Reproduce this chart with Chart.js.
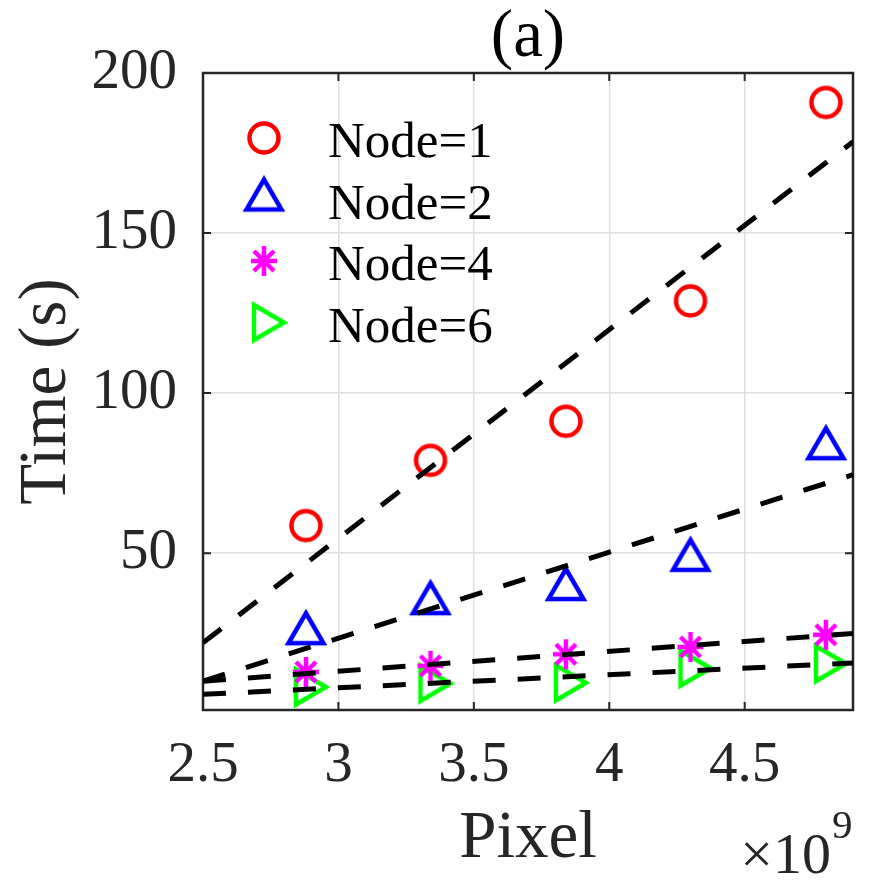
<!DOCTYPE html>
<html><head><meta charset="utf-8">
<script src="https://cdn.jsdelivr.net/npm/chart.js@4.4.1/dist/chart.umd.min.js"></script>
<style>html,body{margin:0;padding:0;background:#fff;}canvas{display:block;}</style>
</head><body>
<canvas id="c" width="871" height="886"></canvas>
<script>
// ---- data (x in units of 10^9 pixels) ----
const pixelX = [2.88, 3.34, 3.84, 4.30, 4.80];
const node1 = [58.6, 79.0, 91.2, 128.8, 190.8];
const node2 = [25.0, 34.4, 38.8, 47.9, 82.8];
const node4 = [12.9, 14.8, 18.4, 20.7, 24.5];
const node6 = [8.2, 9.3, 9.5, 14.1, 15.5];
const fitX = [2.5, 4.9];
const fit1 = [22.0, 178.5];
const fit2 = [10.0, 74.5];
const fit4 = [10.0, 24.9];
const fit6 = [5.9, 15.7];
const xTicks = [2.5, 3, 3.5, 4, 4.5];
const yTicks = [50, 100, 150, 200];
const seriesLabels = ['Node=1', 'Node=2', 'Node=4', 'Node=6'];

const FONT = "'Liberation Serif', serif";

function mk(type, color) {
  const c = document.createElement('canvas'); c.width = c.height = 60;
  const g = c.getContext('2d'); g.strokeStyle = color; g.lineWidth = 4.5; g.translate(30, 30);
  g.beginPath();
  if (type === 'o') { g.arc(0, 0, 14.5, 0, Math.PI * 2); }
  else if (type === '^') { const w = 35, h = 30; g.moveTo(0, -2*h/3); g.lineTo(w/2, h/3); g.lineTo(-w/2, h/3); g.closePath(); }
  else if (type === '>') { const w = 35, h = 30; g.moveTo(2*h/3, 0); g.lineTo(-h/3, w/2); g.lineTo(-h/3, -w/2); g.closePath(); }
  else if (type === '*') { const a = 15, b = 13, d = 10;
    g.moveTo(0, -a); g.lineTo(0, a); g.moveTo(-b, 0); g.lineTo(b, 0);
    g.moveTo(-d, -d); g.lineTo(d, d); g.moveTo(-d, d); g.lineTo(d, -d); }
  g.stroke(); return c;
}
const markers = [mk('o', '#ff0000'), mk('^', '#0000ff'), mk('*', '#ff00ff'), mk('>', '#00ff00')];
const seriesVals = [node1, node2, node4, node6];
const fits = [fit1, fit2, fit4, fit6];

const datasets = [];
fits.forEach(f => datasets.push({
  type: 'line', data: fitX.map((x, i) => ({x, y: f[i]})), showLine: true,
  borderColor: '#000', borderWidth: 5, borderDash: [23, 22], borderCapStyle: 'butt',
  pointRadius: 0, fill: false, order: 0, tension: 0
}));
seriesVals.forEach((v, k) => datasets.push({
  type: 'scatter', label: seriesLabels[k], data: pixelX.map((x, i) => ({x, y: v[i]})),
  pointStyle: markers[k], pointRadius: 12, showLine: false, order: 1
}));

const decor = {
  id: 'decor',
  beforeDatasetsDraw(chart) {
    const ctx = chart.ctx, {left, right, top, bottom} = chart.chartArea;
    const xs = chart.scales.x, ys = chart.scales.y;
    ctx.save();
    ctx.strokeStyle = '#262626'; ctx.lineWidth = 2; ctx.lineCap = 'butt';
    ctx.beginPath();
    xTicks.forEach(v => { const p = xs.getPixelForValue(v);
      ctx.moveTo(p, bottom); ctx.lineTo(p, bottom - 8); ctx.moveTo(p, top); ctx.lineTo(p, top + 8); });
    yTicks.forEach(v => { const p = ys.getPixelForValue(v);
      ctx.moveTo(left, p); ctx.lineTo(left + 8, p); ctx.moveTo(right, p); ctx.lineTo(right - 8, p); });
    ctx.stroke();
    ctx.lineWidth = 2.5;
    ctx.strokeRect(left, top, right - left, bottom - top);
    ctx.restore();
  },
  afterDraw(chart) {
    const ctx = chart.ctx, {right} = chart.chartArea;
    ctx.save();
    ctx.fillStyle = '#000'; ctx.textBaseline = 'alphabetic'; ctx.textAlign = 'left';
    ctx.font = '51px ' + FONT;
    seriesLabels.forEach((t, i) => {
      const base = 157 + i * 61.5;
      const m = markers[i];
      ctx.drawImage(m, 264 - m.width / 2, base - 19 - m.height / 2);
      ctx.fillText(t, 328, base);
    });
    ctx.fillStyle = '#262626';
    ctx.font = '58px ' + FONT; ctx.textAlign = 'right';
    ctx.fillText('\u00d710', right - 22, 873);
    ctx.font = '41px ' + FONT; ctx.textAlign = 'left';
    ctx.fillText('9', right - 21, 838);
    ctx.restore();
  }
};

new Chart(document.getElementById('c'), {
  type: 'scatter',
  data: {datasets},
  options: {
    responsive: false, animation: false, devicePixelRatio: 1,
    font: {family: FONT},
    layout: {padding: {left: 0, right: 18, top: 0, bottom: 0}},
    plugins: {
      legend: {display: false}, tooltip: {enabled: false},
      title: {display: true, text: '(a)', color: '#000', fullSize: false,
        font: {family: FONT, size: 67, weight: 'normal', lineHeight: 1}, padding: {top: 5, bottom: 1}}
    },
    scales: {
      x: {
        type: 'linear', min: 2.5, max: 4.9,
        afterBuildTicks: s => { s.ticks = xTicks.map(v => ({value: v})); },
        afterFit: s => { s.height = 176; },
        grid: {color: '#dedede', lineWidth: 1.5, drawTicks: false},
        border: {display: false},
        ticks: {color: '#262626', font: {family: FONT, size: 57, weight: 'normal'}, padding: 22, maxRotation: 0,
          callback: v => String(v)},
        title: {display: true, text: 'Pixel', color: '#262626',
          font: {family: FONT, size: 67, weight: 'normal', lineHeight: 1}, padding: {top: 0, bottom: 13}}
      },
      y: {
        type: 'linear', min: 1, max: 200,
        afterBuildTicks: s => { s.ticks = yTicks.map(v => ({value: v})); },
        afterFit: s => { s.width = 203; },
        grid: {color: '#dedede', lineWidth: 1.5, drawTicks: false},
        border: {display: false},
        ticks: {color: '#262626', font: {family: FONT, size: 57, weight: 'normal'}, padding: 26,
          callback: v => String(v)},
        title: {display: true, text: 'Time (s)', color: '#262626',
          font: {family: FONT, size: 67, weight: 'normal', lineHeight: 1}, padding: {top: 14, bottom: 0}}
      }
    }
  },
  plugins: [decor]
});
</script>
</body></html>
